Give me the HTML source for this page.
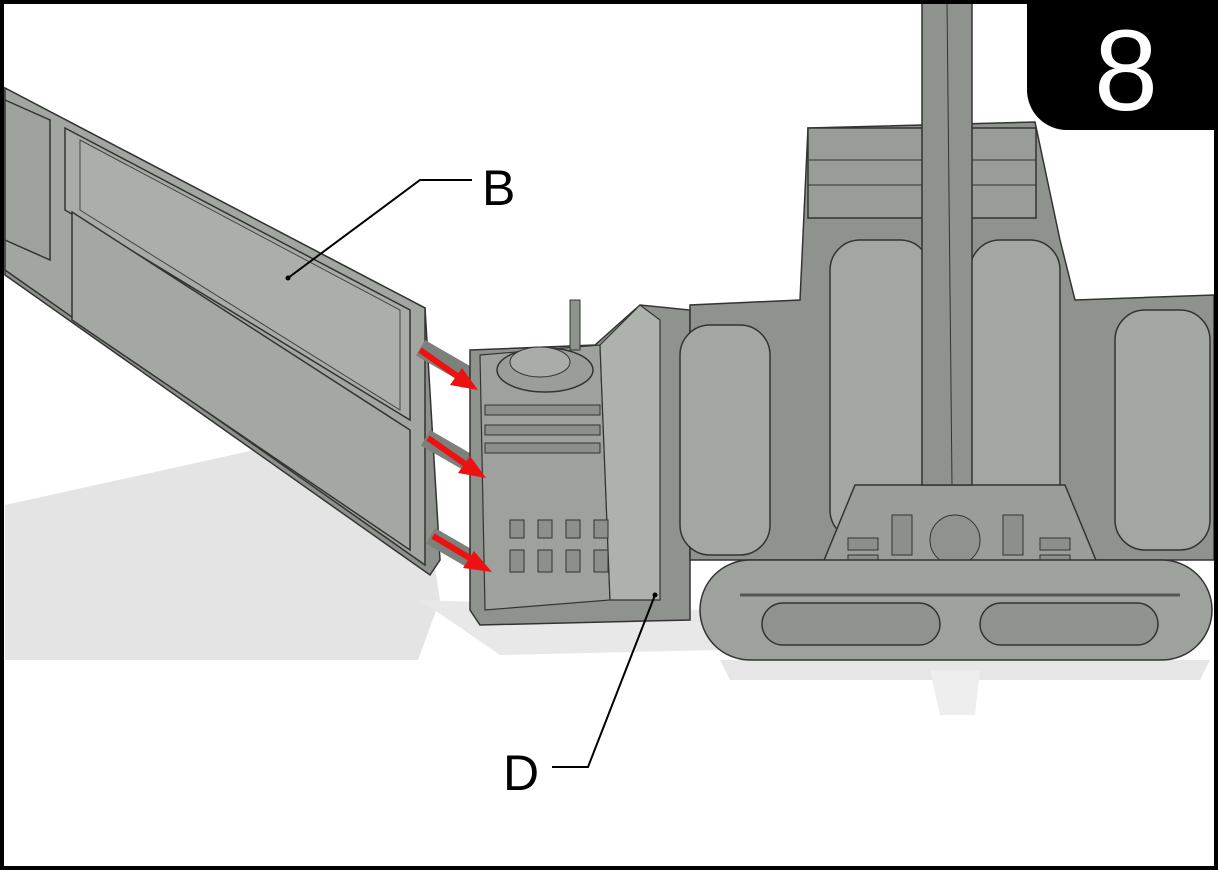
<!DOCTYPE html>
<html><head><meta charset="utf-8"><style>
html,body{margin:0;padding:0;background:#fff}
svg{display:block}
</style></head><body>
<svg width="1218" height="870" viewBox="0 0 1218 870" xmlns="http://www.w3.org/2000/svg" font-family="Liberation Sans, sans-serif">
<rect x="0" y="0" width="1218" height="870" fill="#fff"/>
<!-- shadows -->
<polygon points="5,505 300,440 420,470 440,600 418,660 5,660" fill="#e4e4e4"/>
<polygon points="420,600 700,610 720,650 500,655" fill="#e8e8e8"/>
<polygon points="720,660 1210,660 1200,680 730,680" fill="#e6e6e6"/>
<polygon points="930,670 980,670 975,715 940,715" fill="#eeeeee"/>
<!-- wing -->
<polygon points="5,88 425,308 440,560 430,575 5,275" fill="#8d918b" stroke="#333" stroke-width="1.5"/>
<polygon points="5,88 425,308 425,565 5,270" fill="#a2a6a0" stroke="#333" stroke-width="1.5"/>
<polygon points="65,128 410,310 410,420 65,210" fill="#a8aca6" stroke="#333" stroke-width="1.5"/>
<polygon points="80,140 400,310 400,410 80,210" fill="#abafa9" stroke="#444" stroke-width="1"/>
<polygon points="72,212 410,430 410,550 72,320" fill="#a4a8a2" stroke="#333" stroke-width="1.5"/>
<polygon points="5,100 50,120 50,260 5,240" fill="#9ea29c" stroke="#333" stroke-width="1.5"/>
<!-- tabs -->
<rect x="425" y="340" width="60" height="18" fill="#7d817b" transform="rotate(30 425 340)"/>
<rect x="430" y="430" width="60" height="18" fill="#7d817b" transform="rotate(30 430 430)"/>
<rect x="435" y="528" width="60" height="18" fill="#7d817b" transform="rotate(30 435 528)"/>
<!-- connector D -->
<polygon points="470,350 595,345 640,305 690,310 690,620 480,625 470,610" fill="#8f938d" stroke="#333" stroke-width="1.5"/>
<polygon points="480,355 600,345 610,600 485,610" fill="#9ea29c" stroke="#333" stroke-width="1.2"/>
<polygon points="600,345 640,305 660,320 660,600 610,600" fill="#aeb2ac" stroke="#333" stroke-width="1.2"/>
<rect x="570" y="300" width="10" height="50" fill="#8f938d" stroke="#333"/>
<ellipse cx="545" cy="370" rx="48" ry="22" fill="#9a9e98" stroke="#333" stroke-width="1.5"/>
<ellipse cx="540" cy="362" rx="30" ry="15" fill="#a9ada7" stroke="#333"/>
<rect x="485" y="405" width="115" height="10" fill="#8c908a" stroke="#333"/>
<rect x="485" y="425" width="115" height="10" fill="#8c908a" stroke="#333"/>
<rect x="485" y="443" width="115" height="10" fill="#8c908a" stroke="#333"/>
<g fill="#8c908a" stroke="#333">
<rect x="510" y="520" width="14" height="18"/><rect x="538" y="520" width="14" height="18"/><rect x="566" y="520" width="14" height="18"/><rect x="594" y="520" width="14" height="18"/>
<rect x="510" y="550" width="14" height="22"/><rect x="538" y="550" width="14" height="22"/><rect x="566" y="550" width="14" height="22"/><rect x="594" y="550" width="14" height="22"/>
</g>
<!-- main body -->
<polygon points="808,128 1035,122 1060,240 1075,300 1214,295 1214,560 690,560 690,305 800,300" fill="#8f938d" stroke="#333" stroke-width="1.5"/>
<rect x="808" y="128" width="228" height="90" fill="#999d97" stroke="#333" stroke-width="1.5"/>
<line x1="808" y1="160" x2="1036" y2="160" stroke="#333"/>
<line x1="808" y1="185" x2="1036" y2="185" stroke="#333"/>
<rect x="680" y="325" width="90" height="230" rx="30" fill="#a3a7a1" stroke="#333" stroke-width="1.5"/>
<rect x="830" y="240" width="100" height="300" rx="30" fill="#a3a7a1" stroke="#333" stroke-width="1.5"/>
<rect x="970" y="240" width="90" height="300" rx="30" fill="#a3a7a1" stroke="#333" stroke-width="1.5"/>
<rect x="1115" y="310" width="95" height="240" rx="30" fill="#a3a7a1" stroke="#333" stroke-width="1.5"/>
<polygon points="855,485 1065,485 1100,570 820,570" fill="#9a9e98" stroke="#333" stroke-width="1.5"/>
<circle cx="955" cy="540" r="25" fill="#8f938d" stroke="#333"/>
<rect x="892" y="515" width="20" height="40" fill="#8c908a" stroke="#333"/>
<rect x="1003" y="515" width="20" height="40" fill="#8c908a" stroke="#333"/>
<rect x="848" y="538" width="30" height="12" fill="#8c908a" stroke="#333"/>
<rect x="848" y="555" width="30" height="12" fill="#8c908a" stroke="#333"/>
<rect x="1040" y="538" width="30" height="12" fill="#8c908a" stroke="#333"/>
<rect x="1040" y="555" width="30" height="12" fill="#8c908a" stroke="#333"/>
<!-- mast -->
<rect x="922" y="0" width="50" height="485" fill="#8f938d" stroke="#333" stroke-width="1.5"/>
<line x1="947" y1="0" x2="952" y2="485" stroke="#333"/>
<!-- bottom bar -->
<rect x="700" y="560" width="512" height="100" rx="50" fill="#9ea29c" stroke="#333" stroke-width="1.5"/>
<line x1="740" y1="595" x2="1180" y2="595" stroke="#555" stroke-width="3"/>
<rect x="762" y="603" width="178" height="42" rx="21" fill="#8f938d" stroke="#333" stroke-width="1.5"/>
<rect x="980" y="603" width="178" height="42" rx="21" fill="#8f938d" stroke="#333" stroke-width="1.5"/>
<!-- red arrows -->
<g stroke="#ee1111" stroke-width="6" fill="#ee1111">
<line x1="420" y1="350" x2="460" y2="378"/><polygon points="478,390 450,385 462,368" stroke="none"/>
<line x1="428" y1="438" x2="468" y2="466"/><polygon points="486,478 458,473 470,456" stroke="none"/>
<line x1="433" y1="536" x2="473" y2="560"/><polygon points="492,572 463,568 474,551" stroke="none"/>
</g>
<!-- labels -->
<polyline points="472,180 420,180 288,278" fill="none" stroke="#000" stroke-width="2"/>
<circle cx="288" cy="278" r="2.5" fill="#000"/>
<text x="482" y="205" font-size="50" fill="#000">B</text>
<polyline points="552,767 588,767 655,595" fill="none" stroke="#000" stroke-width="2"/>
<circle cx="655" cy="595" r="2.5" fill="#000"/>
<text x="503" y="790" font-size="50" fill="#000">D</text>
<!-- step box -->
<path d="M1027,0 H1218 V130 H1067 A40,40 0 0 1 1027,90 Z" fill="#000"/>
<text x="1126" y="110" font-size="115" fill="#fff" text-anchor="middle">8</text>
<!-- frame -->
<rect x="2" y="2" width="1214" height="866" fill="none" stroke="#000" stroke-width="4"/>
</svg>
</body></html>
